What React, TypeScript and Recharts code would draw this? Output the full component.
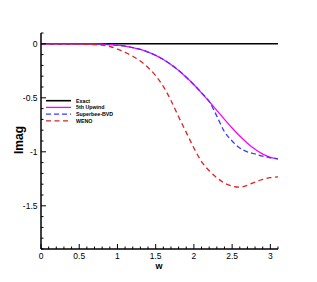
import React from 'react';
import { LineChart, Line, XAxis, YAxis, Legend } from 'recharts';

const wValues = [0, 0.1, 0.2, 0.3, 0.4, 0.5, 0.6, 0.7, 0.8, 0.9, 1.0, 1.1, 1.2, 1.3, 1.4, 1.5, 1.6, 1.7, 1.8, 1.9, 2.0, 2.1, 2.2, 2.3, 2.4, 2.5, 2.6, 2.7, 2.8, 2.9, 3.0, 3.1];
const exact = [0, 0, 0, 0, 0, 0, 0, 0, 0, 0, 0, 0, 0, 0, 0, 0, 0, 0, 0, 0, 0, 0, 0, 0, 0, 0, 0, 0, 0, 0, 0, 0];
const upwind5 = [0, 0, 0, 0, -0.0001, -0.0002, -0.0007, -0.0017, -0.0037, -0.0072, -0.013, -0.0218, -0.0346, -0.0524, -0.0762, -0.107, -0.1454, -0.1918, -0.2464, -0.309, -0.3787, -0.4544, -0.5344, -0.6168, -0.6993, -0.7791, -0.8537, -0.9204, -0.9768, -1.0209, -1.0507, -1.0653];
const superbeeBVD = [0, 0, 0, 0, -0.0001, -0.0002, -0.0007, -0.0017, -0.0037, -0.0072, -0.013, -0.0218, -0.0346, -0.0524, -0.0762, -0.107, -0.1454, -0.1918, -0.2464, -0.309, -0.3787, -0.4544, -0.5344, -0.67, -0.815, -0.9, -0.965, -1.0, -1.02, -1.04, -1.055, -1.065];
const weno = [0, 0, 0, 0, -0.001, -0.003, -0.005, -0.008, -0.013, -0.025, -0.05, -0.08, -0.115, -0.16, -0.22, -0.295, -0.395, -0.525, -0.675, -0.82, -0.965, -1.09, -1.175, -1.24, -1.29, -1.318, -1.327, -1.31, -1.28, -1.255, -1.24, -1.232];

const xTicks = [0, 0.1, 0.2, 0.3, 0.4, 0.5, 0.6, 0.7, 0.8, 0.9, 1, 1.1, 1.2, 1.3, 1.4, 1.5, 1.6, 1.7, 1.8, 1.9, 2, 2.1, 2.2, 2.3, 2.4, 2.5, 2.6, 2.7, 2.8, 2.9, 3, 3.1];
const xMajor = ['0', '0.5', '1', '1.5', '2', '2.5', '3'];
const yTicks = [0.1, 0, -0.1, -0.2, -0.3, -0.4, -0.5, -0.6, -0.7, -0.8, -0.9, -1, -1.1, -1.2, -1.3, -1.4, -1.5, -1.6, -1.7, -1.8, -1.9];
const yMajor = ['0', '-0.5', '-1', '-1.5'];

const seriesNames = ['Exact', '5th Upwind', 'Superbee-BVD', 'WENO'];
const seriesColors = ['#000000', '#ff00ff', '#3a3aff', '#dd2222'];
const seriesDash = ['', '', '5 3', '5 3.5'];

const data = wValues.map((w, i) => ({
  w,
  exact: exact[i],
  upwind: upwind5[i],
  bvd: superbeeBVD[i],
  weno: weno[i],
}));

const FONT = '"Liberation Sans", Arial, Helvetica, sans-serif';

const fmt = (v: number) => {
  const r = Math.round(v * 10) / 10;
  return String(r);
};

const XTick = (props: any) => {
  const { x, y, payload } = props;
  const label = fmt(payload.value);
  const major = xMajor.includes(label);
  return (
    <g>
      <line x1={x} x2={x} y1={y} y2={y - (major ? 5 : 2.5)} stroke="#000" strokeWidth={1} />
      {major && (
        <text x={x} y={y + 9.5} textAnchor="middle" fontSize={8.5} fontFamily={FONT} fill="#000">
          {label}
        </text>
      )}
    </g>
  );
};

const YTick = (props: any) => {
  const { x, y, payload } = props;
  const label = fmt(payload.value);
  const major = yMajor.includes(label);
  return (
    <g>
      <line x1={x} x2={x + (major ? 5 : 2.5)} y1={y} y2={y} stroke="#000" strokeWidth={1} />
      {major && (
        <text x={x - 3.5} y={y + 3} textAnchor="end" fontSize={8.5} fontFamily={FONT} fill="#000">
          {label}
        </text>
      )}
    </g>
  );
};

const LegendContent = () => (
  <svg width={80} height={30} style={{ display: 'block' }}>
    {seriesNames.map((name, i) => {
      const yy = 3.7 + i * 6.7;
      return (
        <g key={name}>
          <line x1={0} x2={25} y1={yy} y2={yy} stroke={seriesColors[i]} strokeWidth={i === 0 ? 1.6 : 1.3} strokeDasharray={seriesDash[i] || undefined} />
          <text x={30} y={yy + 1.9} fontSize={5.3} fontWeight="bold" fontFamily={FONT} fill="#000">
            {name}
          </text>
        </g>
      );
    })}
  </svg>
);

export default function App() {
  return (
    <div style={{ position: 'absolute', left: 0, top: 0, width: 317, height: 282, background: '#fff' }}>
      <LineChart width={317} height={282} data={data} margin={{ top: 33, right: 39, left: 0, bottom: 0 }}>
        <XAxis
          dataKey="w"
          type="number"
          domain={[0, 3.1]}
          ticks={xTicks}
          interval={0}
          allowDataOverflow
          tickLine={false}
          tickSize={0}
          tickMargin={0}
          tick={XTick}
          axisLine={{ stroke: '#000', strokeWidth: 1.5 }}
          height={33}
          label={() => (
            <text x={159} y={269} textAnchor="middle" fontSize={9} fontWeight="bold" fontFamily={FONT} fill="#000">
              w
            </text>
          )}
        />
        <YAxis
          type="number"
          domain={[-1.9, 0.1]}
          ticks={yTicks}
          interval={0}
          allowDataOverflow
          tickLine={false}
          tickSize={0}
          tickMargin={0}
          tick={YTick}
          axisLine={{ stroke: '#000', strokeWidth: 1.5 }}
          width={41}
          label={() => (
            <text x={23} y={140} textAnchor="middle" fontSize={12} fontWeight="bold" fontFamily={FONT} fill="#000" transform="rotate(-90 23 140)">
              Imag
            </text>
          )}
        />
        <Legend
          layout="vertical"
          align="center"
          verticalAlign="middle"
          content={LegendContent}
          wrapperStyle={{ left: 46, top: 97, width: 80, height: 30 }}
        />
        <Line dataKey="exact" name="Exact" stroke={seriesColors[0]} strokeWidth={1.6} dot={false} type="monotone" isAnimationActive={false} />
        <Line dataKey="upwind" name="5th Upwind" stroke={seriesColors[1]} strokeWidth={1.3} dot={false} type="monotone" isAnimationActive={false} />
        <Line dataKey="bvd" name="Superbee-BVD" stroke={seriesColors[2]} strokeWidth={1.3} strokeDasharray={seriesDash[2]} dot={false} type="monotone" isAnimationActive={false} />
        <Line dataKey="weno" name="WENO" stroke={seriesColors[3]} strokeWidth={1.3} strokeDasharray={seriesDash[3]} dot={false} type="monotone" isAnimationActive={false} />
      </LineChart>
    </div>
  );
}
